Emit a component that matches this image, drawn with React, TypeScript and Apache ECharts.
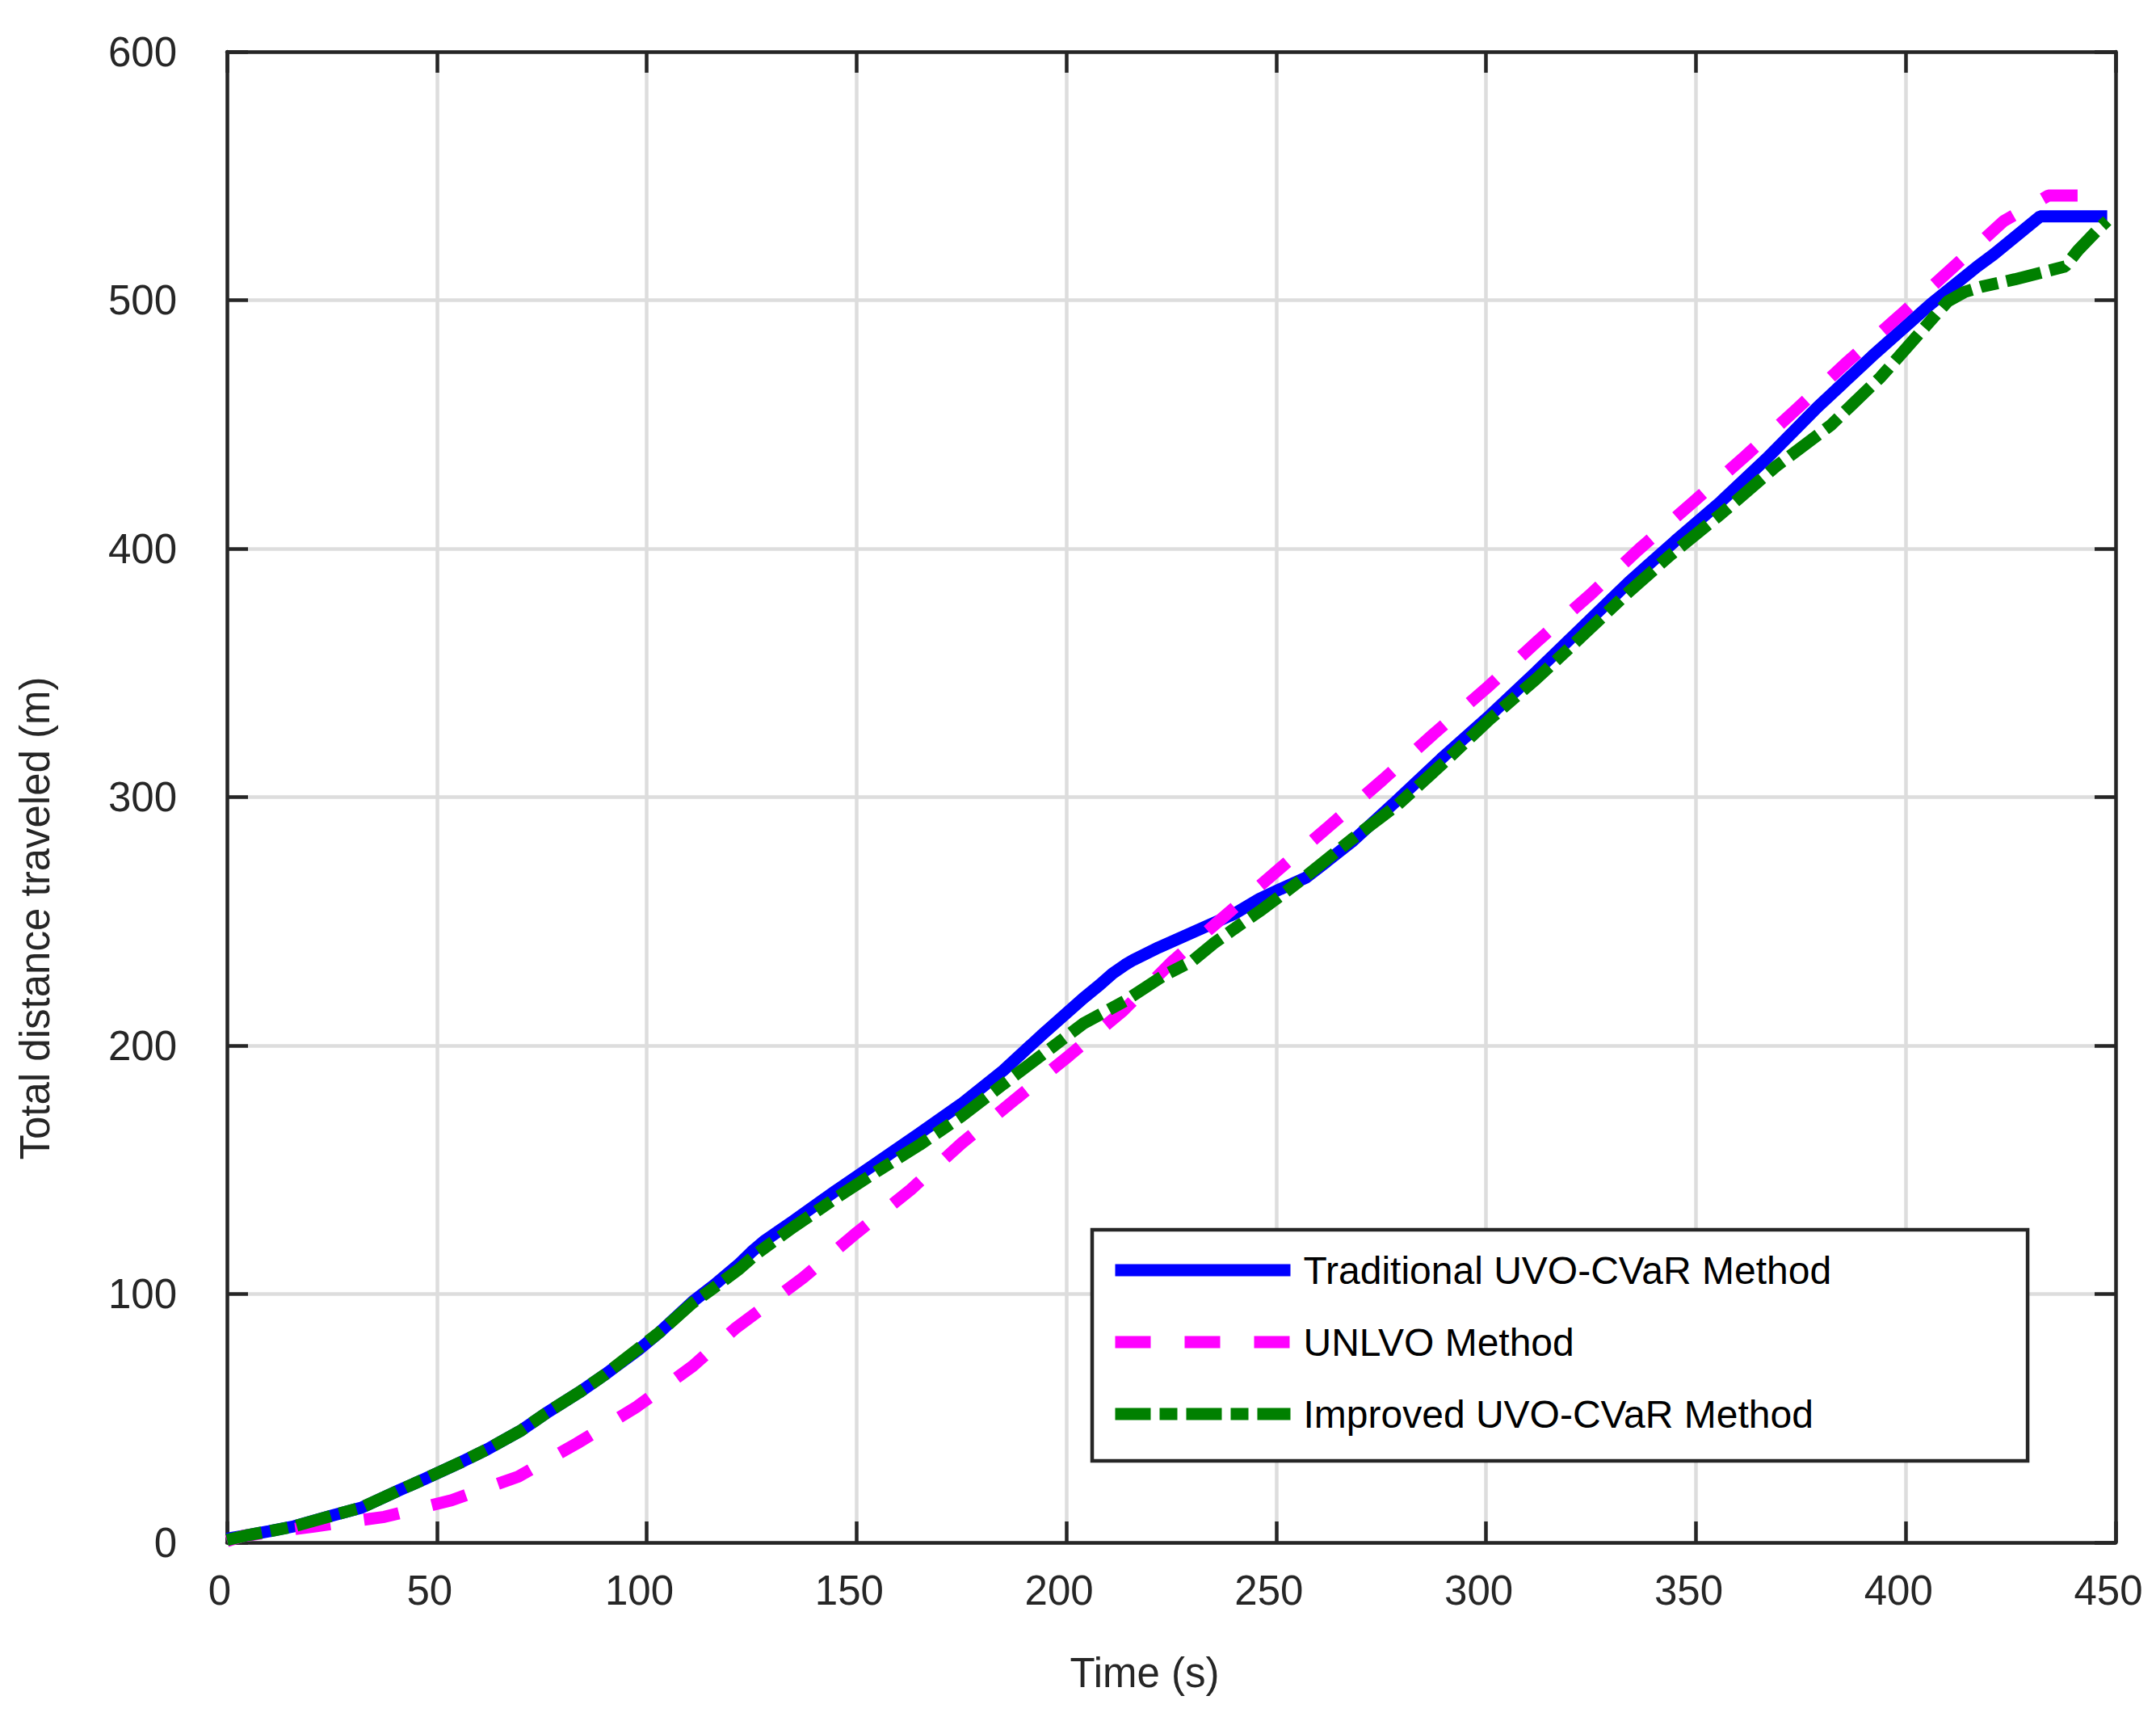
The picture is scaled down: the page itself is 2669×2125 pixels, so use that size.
import React, { useEffect, useRef } from "react";
import * as echarts from "echarts";

const FONT = "'Liberation Sans', Arial, Helvetica, sans-serif";

const xTicks = [0, 50, 100, 150, 200, 250, 300, 350, 400, 450];
const yTicks = [0, 100, 200, 300, 400, 500, 600];

const seriesNames = ["Traditional UVO-CVaR Method", "UNLVO Method", "Improved UVO-CVaR Method"];

const tradT = [0, 5, 10, 16, 25, 32, 41, 47, 56, 62, 70, 76, 84, 90, 98, 103, 111, 116, 122, 125, 128, 131, 135, 145, 155, 165, 175, 185, 194, 204, 208, 211, 214, 216, 219, 222, 226, 230, 234, 240, 246, 251, 257, 262, 268, 279, 290, 301, 312, 323, 334, 345, 356, 367, 379, 392, 406, 417, 421, 432, 448];
const tradD = [1.5, 3, 4.5, 6.5, 10.8, 14, 21, 25.5, 32.5, 37.5, 45, 52, 60.5, 67.5, 77.5, 84.5, 97, 103.5, 112, 117, 121.3, 124.8, 129.5, 141.5, 153, 164.7, 176.5, 190, 204, 219, 224.5, 229, 232.5, 234.5, 237, 239.5, 242.5, 245.5, 248.5, 253, 259, 263, 267.5, 274, 282, 299, 316.5, 333, 350.5, 368.5, 386.5, 403, 419, 436.5, 457, 477.5, 498.5, 513.5, 518.5, 533.7, 533.7];

const unlvoT = [0, 4, 21, 37.5, 53.5, 69.4, 83.5, 97.7, 111, 121, 137.3, 150, 162.9, 175, 188, 200.7, 213.5, 225.2, 237.5, 250, 262.7, 275.4, 287.5, 300.2, 312.4, 324.5, 336.6, 349.5, 362, 374.2, 386.3, 398.7, 411, 423.3, 434, 448];
const unlvoD = [0.5, 2.7, 6.5, 10.3, 17, 26.5, 40, 54.7, 71, 86, 106.6, 124.6, 142, 160.6, 178.6, 196, 214, 233.8, 251.8, 270, 288.4, 307, 325.4, 344, 363, 381, 400, 419, 437.6, 456.5, 475.5, 494, 512.8, 531.8, 542.1, 542.1];

const impT = [0, 5, 10, 16, 25, 32, 41, 47, 56, 62, 70, 76, 84, 90, 98, 103, 111, 116, 122, 126, 135, 145, 155, 165, 175, 185, 194, 204, 214, 223, 230, 235, 240, 246, 250, 257, 268, 279, 290, 301, 312, 323, 334, 344, 356, 369, 382, 394, 405, 410, 414, 418, 426, 433, 438, 441, 446, 448];
const impD = [1, 3, 4.5, 6.5, 10.8, 14, 21, 25.5, 32.5, 37.5, 45, 52, 60.5, 67.5, 78, 84.5, 96.5, 102.5, 110, 116, 127, 138.5, 149.5, 160, 171.5, 184.5, 196, 208.8, 218, 228, 234, 241, 247, 254, 259, 268, 283, 297, 314, 331.5, 347.6, 365, 382.6, 397.5, 414, 433, 449.5, 469, 490, 499.5, 503.3, 505.4, 508.4, 511.4, 513.6, 520, 528.8, 532];

const pairs = (t: number[], d: number[]) => t.map((v, i) => [v, d[i]]);

const AXIS_COLOR = "#262626";

export default function App() {
  const ref = useRef<HTMLDivElement>(null);
  useEffect(() => {
    document.body.style.margin = "0";
    const chart = echarts.init(ref.current!, null, { renderer: "svg" });
    const axisLine = { show: true, onZero: false, lineStyle: { color: AXIS_COLOR, width: 4.5 } };
    const axisTick = { show: true, inside: true, length: 26, lineStyle: { color: AXIS_COLOR, width: 4.5 } };
    const splitLine = { show: true, lineStyle: { color: "#dddddd", width: 4.5 } };
    const xBase = { type: "value", min: 0, max: 450, interval: 50 };
    const yBase = { type: "value", min: 0, max: 600, interval: 100 };
    const lineCommon = { type: "line", symbol: "none", showSymbol: false, smooth: false };
    chart.setOption({
      animation: false,
      backgroundColor: "#ffffff",
      textStyle: { fontFamily: FONT },
      grid: { left: 281, right: 50, top: 64, bottom: 216, containLabel: false },
      xAxis: [
        {
          ...xBase,
          position: "bottom",
          axisLine,
          axisTick,
          splitLine,
          axisLabel: {
            show: true,
            fontSize: 51,
            color: AXIS_COLOR,
            fontFamily: FONT,
            margin: 34,
            padding: [0, 18, 0, 0],
            formatter: (v: number) => (xTicks.includes(v) ? String(v) : ""),
          },
          name: "Time (s)",
          nameLocation: "middle",
          nameGap: 136,
          nameTextStyle: { fontSize: 51, color: AXIS_COLOR, fontFamily: FONT, padding: [0, 66, 0, 0] },
        },
        {
          ...xBase,
          position: "top",
          axisLine,
          axisTick,
          splitLine: { show: false },
          axisLabel: { show: false },
        },
      ],
      yAxis: [
        {
          ...yBase,
          position: "left",
          axisLine,
          axisTick,
          splitLine,
          axisLabel: {
            show: true,
            fontSize: 51,
            color: AXIS_COLOR,
            fontFamily: FONT,
            margin: 62,
            padding: [0, 0, 30, 0],
            formatter: (v: number) => (yTicks.includes(v) ? String(v) : ""),
          },
          name: "Total distance traveled (m)",
          nameLocation: "middle",
          nameGap: 212,
          nameTextStyle: { fontSize: 51, color: AXIS_COLOR, fontFamily: FONT, padding: [0, 300, 0, 0] },
        },
        {
          ...yBase,
          position: "right",
          axisLine,
          axisTick,
          splitLine: { show: false },
          axisLabel: { show: false },
        },
      ],
      legend: {
        orient: "vertical",
        left: 1352,
        top: 1522,
        itemWidth: 217,
        itemHeight: 1,
        itemGap: 41,
        padding: [26, 243, 34, 21],
        borderColor: AXIS_COLOR,
        borderWidth: 4.5,
        backgroundColor: "#ffffff",
        selectedMode: false,
        data: seriesNames,
        lineStyle: { width: 15 },
        itemStyle: { opacity: 0 },
        textStyle: { fontSize: 48, lineHeight: 48, color: "#000000", fontFamily: FONT, padding: [0, 0, 0, 11] },
      },
      series: [
        {
          ...lineCommon,
          name: seriesNames[0],
          data: pairs(tradT, tradD),
          lineStyle: { color: "#0000ff", width: 15 },
          itemStyle: { color: "#0000ff" },
          z: 2,
        },
        {
          ...lineCommon,
          name: seriesNames[1],
          data: pairs(unlvoT, unlvoD),
          lineStyle: { color: "#ff00ff", width: 15, type: [44, 42] },
          itemStyle: { color: "#ff00ff" },
          z: 3,
        },
        {
          ...lineCommon,
          name: seriesNames[2],
          data: pairs(impT, impD),
          lineStyle: { color: "#008000", width: 15, type: [44, 11, 22, 11] },
          itemStyle: { color: "#008000" },
          z: 4,
        },
      ],
    });
    return () => chart.dispose();
  }, []);
  return (
    <div
      ref={ref}
      style={{ position: "absolute", left: 0, top: 0, width: 2669, height: 2125, background: "#fff" }}
    />
  );
}
